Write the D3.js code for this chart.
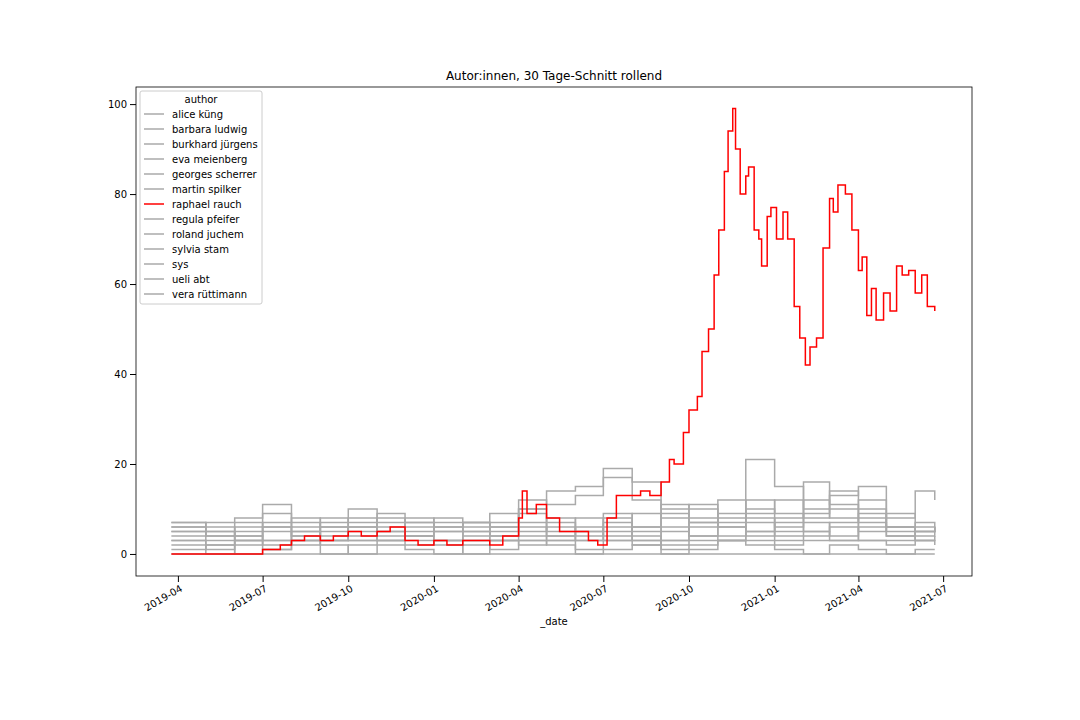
<!DOCTYPE html>
<html><head><meta charset="utf-8">
<script src="https://cdn.jsdelivr.net/npm/d3@7"></script>
<style>body{margin:0;background:#fff}text{font-family:"DejaVu Sans",sans-serif}</style>
</head><body><div class="chart"></div>
<script>
// monthly sample dates for the grey series
var months=["2019-03-25","2019-05-01","2019-06-01","2019-07-01","2019-08-01","2019-09-01","2019-10-01","2019-11-01","2019-12-01",
 "2020-01-01","2020-02-01","2020-03-01","2020-04-01","2020-05-01","2020-06-01","2020-07-01","2020-08-01","2020-09-01","2020-10-01",
 "2020-11-01","2020-12-01","2021-01-01","2021-02-01","2021-03-01","2021-04-01","2021-05-01","2021-06-01","2021-06-22"];
var authors=["alice küng","barbara ludwig","burkhard jürgens","eva meienberg","georges scherrer","martin spilker","raphael rauch",
 "regula pfeifer","roland juchem","sylvia stam","sys","ueli abt","vera rüttimann"];
var alice=[6,7,8,9,6,4,6,9,7,6,5,7,10,14,15,17,12,8,10,8,12,9,8,10,12,6,5,6];
var barbara=[5,4,6,11,7,5,8,5,4,6,7,6,12,11,13,19,16,10,11,7,21,15,10,13,15,8,14,12];
var burkhard=[3,3,3,3,3,3,3,3,3,3,3,3,3,3,3,3,3,3,3,3,3,3,3,3,3,3,3,3];
var eva=[7,2,5,3,8,6,3,7,4,8,3,5,6,3,5,8,4,2,6,9,5,8,16,11,7,4,5,6];
var georges=[2,0,3,1,3,0,2,5,2,3,0,3,2,4,1,6,3,1,2,3,5,2,4,6,3,2,6,5];
var martin=[4,5,2,6,4,8,5,3,6,3,7,4,9,5,8,4,6,9,4,12,8,5,7,4,9,5,3,4];
var regula=[0,0,0,0,0,0,0,0,0,0,0,0,0,0,0,0,0,0,0,0,0,0,0,0,0,0,0,0];
var roland=[1,2,0,1,3,2,0,2,1,0,2,1,3,2,0,1,2,0,1,3,2,1,0,2,1,0,1,1];
var sylvia=[6,4,7,5,2,6,4,8,5,7,6,9,7,4,6,3,9,5,7,4,10,6,9,14,8,6,7,6];
var sys=[5,6,4,7,5,3,6,4,7,5,4,6,5,8,4,7,5,3,8,6,4,7,12,8,5,9,4,5];
var ueli=[3,1,4,2,5,3,7,3,4,2,5,3,4,6,3,5,2,6,4,3,7,4,5,3,6,4,3,2];
var vera=[7,5,3,6,4,7,10,6,8,5,7,4,10,7,5,9,6,11,7,6,9,12,5,7,10,6,5,6];
// raphael rauch, denser
var raphDates=["2019-03-25","2019-06-28","2019-07-01","2019-07-20","2019-08-01","2019-08-15","2019-09-01","2019-09-15","2019-10-01","2019-10-15",
 "2019-11-01","2019-11-15","2019-12-01","2019-12-15","2020-01-01","2020-01-15","2020-02-01","2020-03-01","2020-03-15","2020-04-01","2020-04-05",
 "2020-04-10","2020-04-20","2020-05-01","2020-05-15","2020-06-01","2020-06-15","2020-06-25","2020-07-05","2020-07-15","2020-08-01","2020-08-10",
 "2020-08-20","2020-09-01","2020-09-10","2020-09-15","2020-09-25","2020-10-01","2020-10-10","2020-10-15","2020-10-22","2020-10-28","2020-11-02",
 "2020-11-08","2020-11-12","2020-11-17","2020-11-20","2020-11-25","2020-12-01","2020-12-04","2020-12-10","2020-12-15","2020-12-18","2020-12-24",
 "2020-12-28","2021-01-03","2021-01-10","2021-01-15","2021-01-22","2021-01-28","2021-02-03","2021-02-08","2021-02-15","2021-02-22","2021-03-01",
 "2021-03-05","2021-03-10","2021-03-18","2021-03-25","2021-04-01","2021-04-05","2021-04-10","2021-04-15","2021-04-20","2021-04-28","2021-05-05",
 "2021-05-12","2021-05-18","2021-05-25","2021-06-01","2021-06-08","2021-06-14","2021-06-22"];
var raphael=[0,0,1,2,3,4,3,4,5,4,5,6,3,2,3,2,3,2,4,8,14,9,11,8,5,5,3,2,8,13,13,14,13,16,21,20,27,32,35,45,50,62,72,85,94,99,90,80,84,86,
 72,70,64,75,77,70,76,70,55,48,42,46,48,68,79,76,82,80,72,63,66,53,59,52,58,54,64,62,63,58,62,55,54];

var grey={"alice küng":alice,"barbara ludwig":barbara,"burkhard jürgens":burkhard,"eva meienberg":eva,"georges scherrer":georges,
 "martin spilker":martin,"regula pfeifer":regula,"roland juchem":roland,"sylvia stam":sylvia,"sys":sys,"ueli abt":ueli,"vera rüttimann":vera};

var p=d3.timeParse("%Y-%m-%d");
var svg=d3.select(".chart").append("svg").attr("width",1080).attr("height",720);
var x=d3.scaleTime().domain([p("2019-02-15"),p("2021-08-01")]).range([136,972]);
var y=d3.scaleLinear().domain([-4.9,103.8]).range([576,87]);
var line=d3.line().curve(d3.curveStepAfter).x(function(d){return x(d[0]);}).y(function(d){return y(d[1]);});

authors.forEach(function(a){
  var pts=a=="raphael rauch"?raphDates.map(function(d,i){return [p(d),raphael[i]];})
         :months.map(function(d,i){return [p(d),grey[a][i]];});
  if(a=="raphael rauch") return;
  svg.append("path").attr("d",line(pts)).attr("fill","none").attr("stroke","#aaaaaa").attr("stroke-width",1.5);
});
svg.append("path").attr("d",line(raphDates.map(function(d,i){return [p(d),raphael[i]];})))
  .attr("fill","none").attr("stroke","red").attr("stroke-width",1.5);

var xt=["2019-04","2019-07","2019-10","2020-01","2020-04","2020-07","2020-10","2021-01","2021-04","2021-07"];
var xa=svg.append("g").attr("transform","translate(0,576)")
  .call(d3.axisBottom(x).tickValues(xt.map(function(t){return p(t+"-01");})).tickFormat(d3.timeFormat("%Y-%m")).tickSizeOuter(0));
xa.selectAll("text").attr("font-size",10).attr("text-anchor","end").attr("transform","rotate(-30)").attr("dx","-0.3em").attr("dy","0.6em");
var ya=svg.append("g").attr("transform","translate(136,0)").call(d3.axisLeft(y).tickValues([0,20,40,60,80,100]).tickSizeOuter(0));
ya.selectAll("text").attr("font-size",10);
svg.selectAll(".domain").remove();
svg.append("rect").attr("x",136).attr("y",87).attr("width",836).attr("height",489).attr("fill","none").attr("stroke","#000").attr("stroke-width",0.8);
svg.append("text").attr("x",554).attr("y",80).attr("text-anchor","middle").attr("font-size",12).text("Autor:innen, 30 Tage-Schnitt rollend");
svg.append("text").attr("x",554).attr("y",625).attr("text-anchor","middle").attr("font-size",10).text("_date");

var lg=svg.append("g");
lg.append("rect").attr("x",140).attr("y",91).attr("width",122).attr("height",213).attr("fill","#fff").attr("stroke","#ccc").attr("rx",2);
lg.append("text").attr("x",201).attr("y",103).attr("text-anchor","middle").attr("font-size",10).text("author");
authors.forEach(function(a,i){
  var yy=114+i*15;
  lg.append("line").attr("x1",144).attr("x2",164).attr("y1",yy).attr("y2",yy)
    .attr("stroke",a=="raphael rauch"?"red":"#aaaaaa").attr("stroke-width",1.5);
  lg.append("text").attr("x",172).attr("y",yy+3.5).attr("font-size",10).text(a);
});
</script></body></html>
